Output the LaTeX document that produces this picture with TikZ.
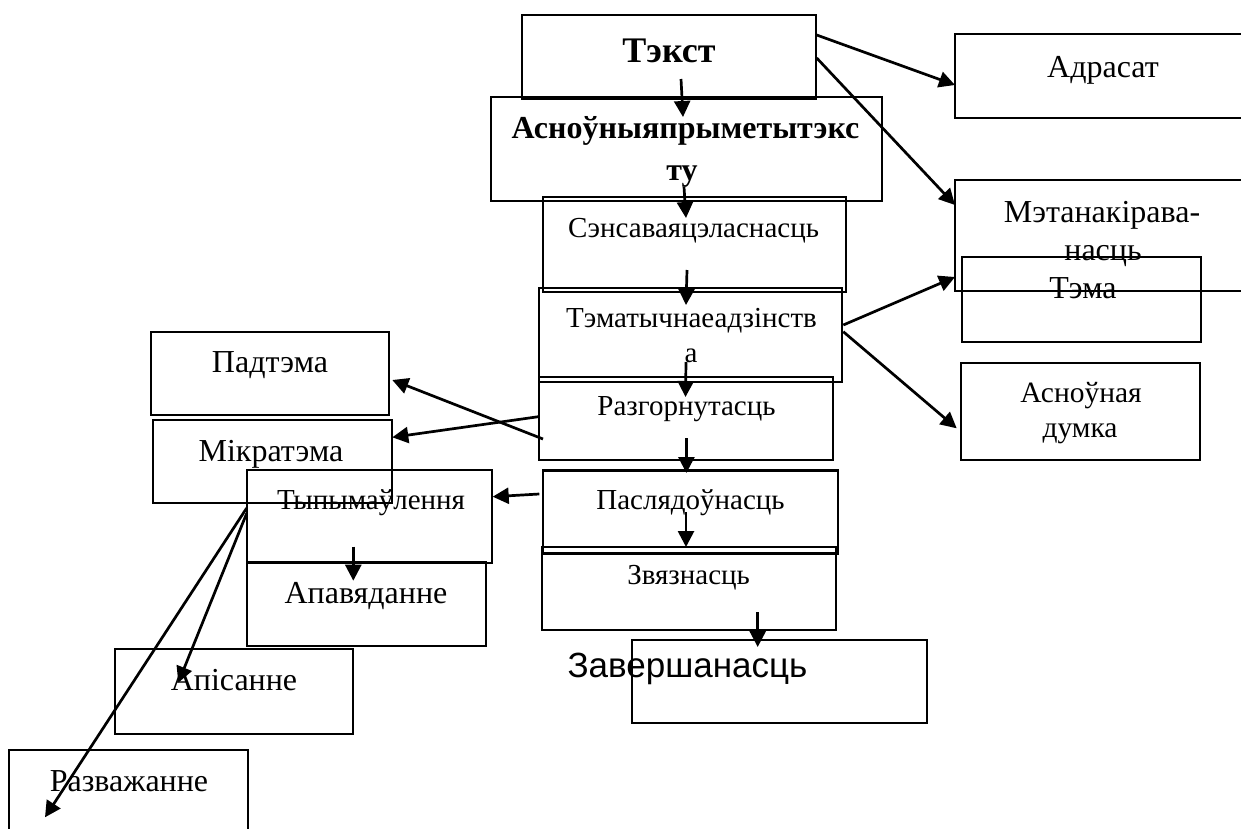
\documentclass[tikz,border=0pt]{standalone}
\usepackage{fontspec}
\setmainfont{Liberation Serif}
\newfontfamily\arialf{Liberation Sans}
\usetikzlibrary{arrows.meta}
\begin{document}
\begin{tikzpicture}[x=1pt,y=-1pt,
  box/.style 2 args={draw, line width=2.9pt, inner sep=0pt, minimum width=#1pt, minimum height=#2pt},
  lbl/.style={inner sep=0pt, anchor=base, font=\fontsize{29}{35}\selectfont},
  lblbig/.style={inner sep=0pt, anchor=base, font=\fontsize{32}{38}\selectfont},
  lblmid/.style={inner sep=0pt, anchor=base, font=\fontsize{29.5}{35}\selectfont},
  blbl/.style={inner sep=0pt, anchor=base, font=\fontsize{32}{38}\selectfont\bfseries},
  tlbl/.style={inner sep=0pt, anchor=base, font=\fontsize{36}{42}\selectfont\bfseries},
  slbl/.style={inner sep=0pt, anchor=base, font=\fontsize{35}{42}\selectfont\arialf},
  arr/.style={line width=2.7pt, -{Triangle[length=16pt,width=16pt]}}]
\useasboundingbox (0,0) rectangle (1241,828);
\fill[white] (0,0) rectangle (1241,828);
% boxes
\node[box={294}{84}]  (tekst)  at (669,57) {};
\node[box={391}{104}] (asn)    at (686.5,149) {};
\node[box={303}{95}]  (sens)   at (694.5,244.5) {};
\node[box={303}{94}]  (temadz) at (690.5,335) {};
\node[box={294}{83}]  (razg)   at (686,418.5) {};
\node[box={295}{83}]  (pasl)   at (690.5,512) {};
\node[box={294}{83}]  (zvyaz)  at (689,588.5) {};
\node[box={295}{83}]  (zav)    at (779.5,681.5) {};
\node[box={238}{83}]  (padt)   at (270,373.5) {};
\node[box={239}{83}]  (mikr)   at (272.5,461.5) {};
\node[box={245}{93}]  (typy)   at (369.5,516.5) {};
\node[box={239}{84}]  (apav)   at (366.5,604) {};
\node[box={238}{85}]  (apis)   at (234,691.5) {};
\node[box={239}{84}]  (razv)   at (128.5,792) {};
\node[box={296}{84}]  (adras)  at (1103,76) {};
\node[box={296}{111}] (meta)   at (1103,235.5) {};
\node[box={239}{85}]  (tema)   at (1081.5,299.5) {};
\node[box={239}{97}]  (asnd)   at (1080.5,411.5) {};
% texts
\node[tlbl] (t1)  at (669,62) {Тэкст};
\node[blbl] (t2a) at (685.5,138) {Асноўныяпрыметытэкс};
\node[blbl] (t2b) at (682,180) {ту};
\node[lbl]  (t3)  at (693.5,237) {Сэнсаваяцэласнасць};
\node[lbl]  (t4a) at (691.5,327) {Тэматычнаеадзінств};
\node[lbl]  (t4b) at (691,362) {а};
\node[lbl]  (t5)  at (686.5,415) {Разгорнутасць};
\node[lbl]  (t6)  at (690.5,509) {Паслядоўнасць};
\node[lbl]  (t7)  at (688.6,584) {Звязнасць};
\node[lblbig] (t8)  at (270,372) {Падтэма};
\node[lblbig] (t9)  at (271,461) {Мікратэма};
\node[lbl]  (t10) at (371,509) {Тыпымаўлення};
\node[lblbig] (t11) at (366,603) {Апавяданне};
\node[lblbig] (t12) at (234,690) {Апісанне};
\node[lblbig] (t13) at (129,791) {Разважанне};
\node[lblbig] (t14) at (1103,77) {Адрасат};
\node[lblbig] (t15a) at (1102,222) {Мэтанакірава-};
\node[lblbig] (t15b) at (1103,260) {насць};
\node[lblbig] (t16) at (1083,298) {Тэма};
\node[lblmid] (t17a) at (1081,402) {Асноўная};
\node[lblmid] (t17b) at (1080,437) {думка};
\node[slbl] (t18) at (687.5,677) {Завершанасць};
% connectors
\draw[arr] ([shift={(12,22)}]tekst.center) -- ([shift={(-3.5,-32)}]asn.center);
\draw[arr] ([shift={(-2.5,38)}]asn.center) -- ([shift={(-8.5,-26.5)}]sens.center);
\draw[arr] ([shift={(-7.5,25.5)}]sens.center) -- ([shift={(-4.5,-30)}]temadz.center);
\draw[arr] ([shift={(-4.5,27)}]temadz.center) -- ([shift={(-0.5,-21.5)}]razg.center);
\draw[arr] ([shift={(0.4,19.5)}]razg.center) -- ([shift={(-4.1,-39)}]pasl.center);
\draw[arr] ([shift={(-4.5,0)}]pasl.center) -- ([shift={(-3,-41.5)}]zvyaz.center);
\draw[arr] ([shift={(68.7,23.5)}]zvyaz.center) -- ([shift={(-21.8,-34.5)}]zav.center);
\draw[arr] ([shift={(147.7,-22)}]tekst.center) -- ([shift={(-148,9)}]adras.center);
\draw[arr] ([shift={(147.7,1)}]tekst.center) -- ([shift={(-148,-30.5)}]meta.center);
\draw[arr] ([shift={(152.8,-10)}]temadz.center) -- ([shift={(-148,41.5)}]meta.center);
\draw[arr] ([shift={(152.8,-3.3)}]temadz.center) -- ([shift={(-123.8,16.8)}]asnd.center);
\draw[arr] ([shift={(-143,20.5)}]razg.center) -- ([shift={(122.3,6.5)}]padt.center);
\draw[arr] ([shift={(-147.7,-1.8)}]razg.center) -- ([shift={(119.8,-24.2)}]mikr.center);
\draw[arr] ([shift={(-151.2,-18)}]pasl.center) -- ([shift={(123.2,-19.8)}]typy.center);
\draw[arr] ([shift={(-16.2,30.2)}]typy.center) -- ([shift={(-13.2,-23.3)}]apav.center);
\draw[arr] ([shift={(-122.8,-3.2)}]typy.center) -- ([shift={(-55.7,-8.8)}]apis.center);
\draw[arr] ([shift={(-122.8,-8.5)}]typy.center) -- ([shift={(-83.5,25.3)}]razv.center);
\end{tikzpicture}
\end{document}
